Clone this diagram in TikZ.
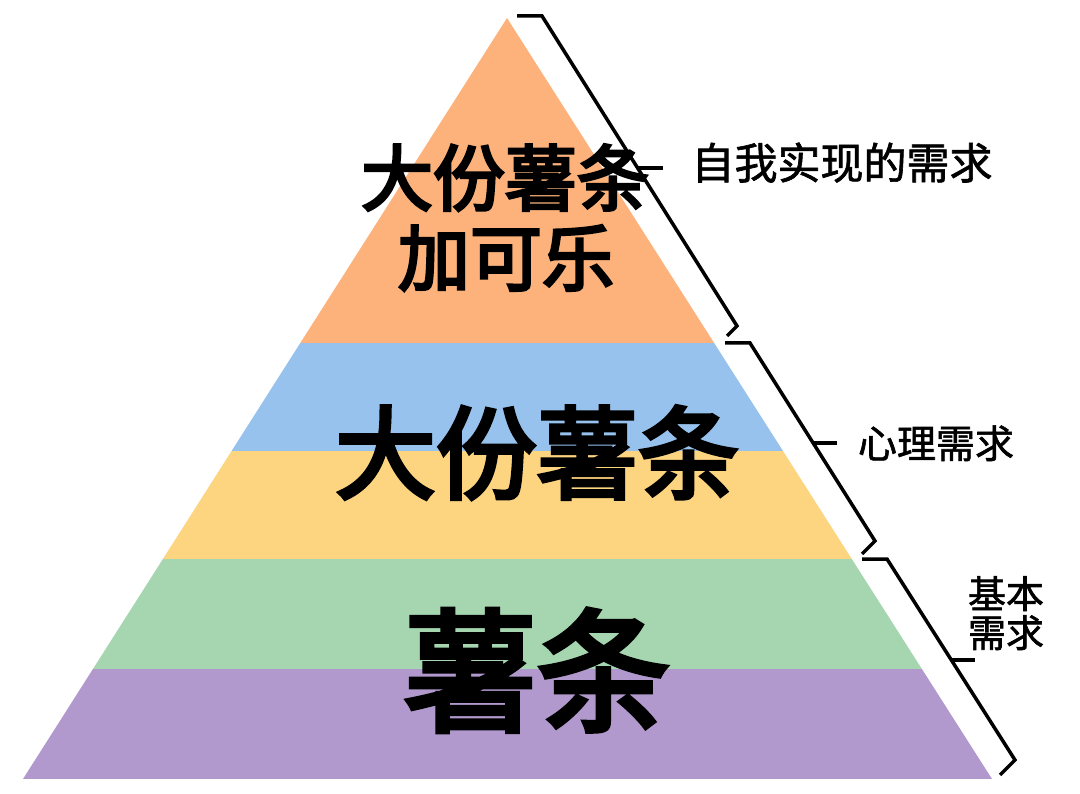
\documentclass[tikz,border=0pt]{standalone}
\usepackage{fontspec}
\newfontfamily\cjk[FakeBold=4]{Noto Sans CJK SC}
\newfontfamily\cjklbl[FakeBold=1.5]{Noto Sans CJK SC}
\usetikzlibrary{calc}
\definecolor{lorange}{HTML}{FCB27A}
\definecolor{lblue}{HTML}{97C2ED}
\definecolor{lyellow}{HTML}{FDD480}
\definecolor{lgreen}{HTML}{A5D6B0}
\definecolor{lpurple}{HTML}{B199CD}
\tikzset{
  bigtext/.style={inner sep=0pt, anchor=base, font=\cjk\fontsize{#1}{#1}\selectfont},
  lbl/.style={inner sep=0pt, anchor=base, font=\cjklbl\fontsize{#1}{#1}\selectfont},
  brace/.style={draw=black, line width=3.5pt, line join=miter},
}
\begin{document}
\begin{tikzpicture}[x=1pt, y=-1pt]
\useasboundingbox (0,0) rectangle (1080,794);
\fill[white] (0,0) rectangle (1080,794);
% pyramid corners
\coordinate (A) at (507,18);
\coordinate (BL) at (23,779);
\coordinate (BR) at (992,779);
\begin{scope}
  \clip (A) -- (BR) -- (BL) -- cycle;
  \fill[lorange] (0,0) rectangle (1080,343);
  \fill[lblue] (0,343) rectangle (1080,451);
  \fill[lyellow] (0,451) rectangle (1080,559);
  \fill[lgreen] (0,559) rectangle (1080,669);
  \fill[lpurple] (0,669) rectangle (1080,779);
\end{scope}
% layer texts
\node[bigtext=72] (t1a) at (505,205) {大份薯条};
\node[bigtext=72] (t1b) at (506,285) {加可乐};
\node[bigtext=101] (t2) at (537,491) {大份薯条};
\node[bigtext=133] (t3) at (537,721) {薯条};
% labels
\node[lbl=43] (l1) at (842,179) {自我实现的需求};
\node[lbl=39] (l2) at (936,458) {心理需求};
\node[lbl=38] (l3a) at (1006,608) {基本};
\node[lbl=38] (l3b) at (1006,647) {需求};
% brace 1
\coordinate (b1s) at (517,16);
\coordinate (b1t) at (542,16);
\coordinate (b1e) at (737,326);
\coordinate (b1h) at (727,336);
\coordinate (b1m) at (638,168);
\coordinate (b1n) at (663,168);
\draw[brace] (b1s) -- (b1t) -- (b1e) -- (b1h);
\draw[brace] (b1m) -- (b1n);
% brace 2
\coordinate (b2s) at (725,343);
\coordinate (b2t) at (750,343);
\coordinate (b2e) at (875,541);
\coordinate (b2h) at (862,554);
\coordinate (b2m) at (813,443);
\coordinate (b2n) at (837,443);
\draw[brace] (b2s) -- (b2t) -- (b2e) -- (b2h);
\draw[brace] (b2m) -- (b2n);
% brace 3
\coordinate (b3s) at (862,559);
\coordinate (b3t) at (887,559);
\coordinate (b3e) at (1015,760);
\coordinate (b3h) at (1000,775);
\coordinate (b3m) at (951,660);
\coordinate (b3n) at (975,660);
\draw[brace] (b3s) -- (b3t) -- (b3e) -- (b3h);
\draw[brace] (b3m) -- (b3n);
\end{tikzpicture}
\end{document}
